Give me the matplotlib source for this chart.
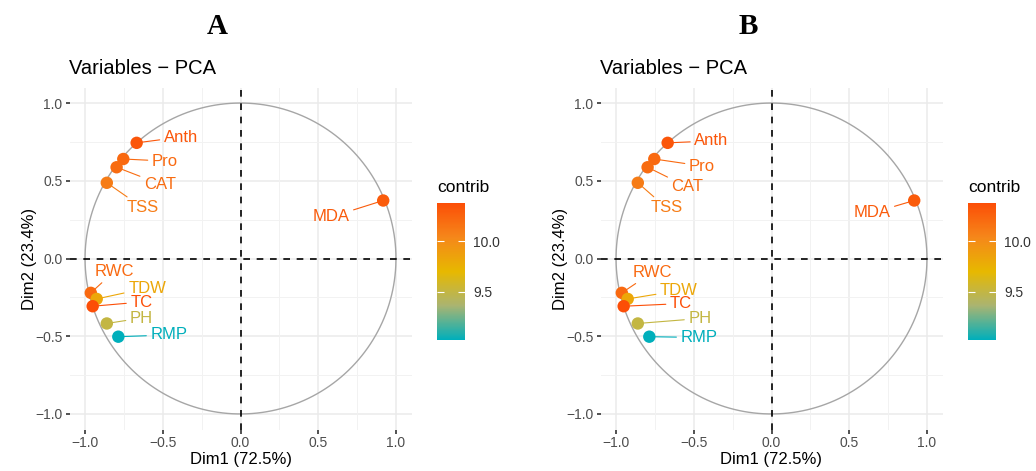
import numpy as np
import matplotlib.pyplot as plt
from matplotlib.colors import LinearSegmentedColormap, Normalize

plt.rcParams['font.family'] = ['Liberation Sans', 'DejaVu Sans']

# PCA variable coordinates (Dim1, Dim2) and contributions
names = ['Anth', 'Pro', 'CAT', 'TSS', 'MDA', 'RWC', 'TDW', 'TC', 'PH', 'RMP']
dim1 = [-0.668, -0.754, -0.797, -0.860, 0.918, -0.963, -0.925, -0.951, -0.860, -0.786]
dim2 = [0.744, 0.640, 0.587, 0.487, 0.373, -0.221, -0.260, -0.307, -0.418, -0.503]
contrib = [10.33, 10.22, 10.20, 10.10, 10.30, 10.22, 9.82, 10.38, 9.50, 9.02]

# label (repel) positions for each panel
lab_a = [(-0.383, 0.781), (-0.486, 0.627), (-0.518, 0.479), (-0.627, 0.325), (0.582, 0.267),
         (-0.813, -0.084), (-0.601, -0.190), (-0.637, -0.280), (-0.637, -0.383), (-0.460, -0.492)]
lab_b = [(-0.386, 0.756), (-0.447, 0.595), (-0.540, 0.460), (-0.675, 0.325), (0.646, 0.293),
         (-0.768, -0.090), (-0.595, -0.206), (-0.582, -0.290), (-0.460, -0.386), (-0.466, -0.508)]

# gradient #00AFBB -> #E7B800 -> #FC4E07 (extra stops mimic Lab interpolation)
cmap = LinearSegmentedColormap.from_list(
    'fviz', [(0.0, '#00AFBB'), (0.25, '#AAB471'), (0.5, '#E7B800'),
             (0.75, '#F5871A'), (1.0, '#FC4E07')])
norm = Normalize(vmin=min(contrib), vmax=max(contrib))

fig = plt.figure(figsize=(10.36, 4.71), dpi=100)
W, H = 1036, 471


def panel(xoff, labels, letter):
    ax = fig.add_axes([(69.5 + xoff) / W, (471 - 429.5) / H, 342 / W, 342 / H])
    ax.set_xlim(-1.1, 1.1)
    ax.set_ylim(-1.1, 1.1)
    for s in ax.spines.values():
        s.set_visible(False)
    ticks = [-1.0, -0.5, 0.0, 0.5, 1.0]
    minor = [-0.75, -0.25, 0.25, 0.75]
    for t in ticks:
        ax.axvline(t, color='#EBEBEB', lw=1.1, zorder=0)
        ax.axhline(t, color='#EBEBEB', lw=1.1, zorder=0)
    for t in minor:
        ax.axvline(t, color='#F2F2F2', lw=0.7, zorder=0)
        ax.axhline(t, color='#F2F2F2', lw=0.7, zorder=0)
    ax.set_xticks(ticks)
    ax.set_yticks(ticks)
    ax.set_xticklabels(['\u22121.0', '\u22120.5', '0.0', '0.5', '1.0'])
    ax.set_yticklabels(['\u22121.0', '\u22120.5', '0.0', '0.5', '1.0'])
    ax.tick_params(length=3, width=1.2, color='#333333', labelcolor='#4D4D4D',
                   labelsize=10, pad=2)
    th = np.linspace(0, 2 * np.pi, 400)
    ax.plot(np.cos(th), np.sin(th), color='#A6A6A6', lw=1.0, zorder=1)
    ax.axhline(0, color='black', lw=1.2, ls=(0, (4, 4)), zorder=2)
    ax.axvline(0, color='black', lw=1.2, ls=(0, (4, 4)), zorder=2)
    cols = [cmap(norm(c)) for c in contrib]
    ax.scatter(dim1, dim2, c=cols, s=80, zorder=4, linewidths=0)
    for i in range(len(names)):
        ax.annotate(names[i], xy=(dim1[i], dim2[i]), xytext=labels[i],
                    color=cols[i], fontsize=12, ha='center', va='center', zorder=5,
                    arrowprops=dict(arrowstyle='-', color=cols[i], lw=0.8,
                                    shrinkA=1, shrinkB=0))
    ax.set_xlabel('Dim1 (72.5%)', fontsize=12, labelpad=1)
    ax.set_ylabel('Dim2 (23.4%)', fontsize=12, labelpad=-1)
    fig.text((69 + xoff) / W, 1 - 68 / H, 'Variables \u2212 PCA', fontsize=14.5,
             ha='left', va='center')
    fig.text((217 + xoff) / W, 1 - 27 / H, letter, fontsize=21, fontweight='bold',
             family='Liberation Serif', ha='center', va='center')

    cax = fig.add_axes([(437 + xoff) / W, (471 - 340) / H, 28 / W, 137 / H])
    sm = plt.cm.ScalarMappable(norm=norm, cmap=cmap)
    cb = fig.colorbar(sm, cax=cax, ticks=[9.5, 10.0])
    cb.outline.set_visible(False)
    cb.ax.set_yticklabels(['9.5', '10.0'])
    cb.ax.yaxis.set_ticks_position('both')
    cb.ax.tick_params(direction='in', length=5, width=0.8, color='white',
                      labelsize=10, labelcolor='#333333', pad=6,
                      labelleft=False, labelright=True)
    fig.text((437 + xoff) / W, 1 - 187 / H, 'contrib', fontsize=12.5,
             ha='left', va='center')


panel(0, lab_a, 'A')
panel(531, lab_b, 'B')

fig.savefig('out.png', dpi=100)
